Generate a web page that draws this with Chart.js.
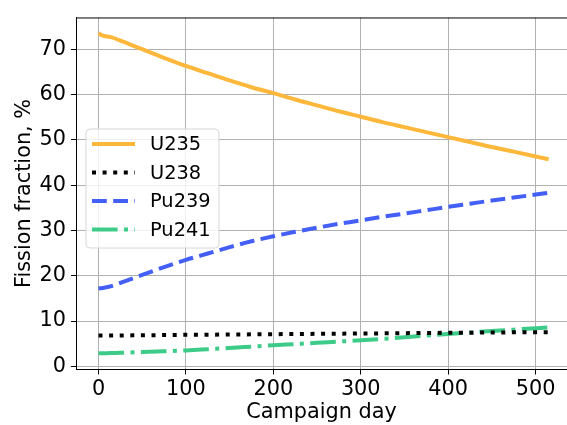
<!DOCTYPE html>
<html>
<head>
<meta charset="utf-8">
<script src="https://cdn.jsdelivr.net/npm/chart.js@4.4.1/dist/chart.umd.min.js"></script>
<style>
html,body{margin:0;padding:0;background:#fff;overflow:hidden;}
#wrap{position:relative;width:567px;height:425px;}
</style>
</head>
<body>
<div id="wrap"><canvas id="c" width="567" height="425"></canvas></div>
<script>
// ---- data ----
const days   = [0, 5, 10, 15, 25, 50, 75, 100, 125, 150, 175, 200, 225, 250, 275, 300, 325, 350, 375, 400, 425, 450, 475, 515];
const u235   = [73.5, 73.0, 72.8, 72.6, 71.9, 70.0, 68.1, 66.3, 64.7, 63.1, 61.6, 60.3, 58.9, 57.6, 56.3, 55.1, 53.9, 52.8, 51.7, 50.6, 49.5, 48.4, 47.4, 45.7];
const u238   = [6.8, 6.8, 6.8, 6.81, 6.82, 6.85, 6.9, 6.95, 6.98, 7.02, 7.06, 7.1, 7.13, 7.17, 7.21, 7.25, 7.28, 7.32, 7.36, 7.4, 7.43, 7.46, 7.5, 7.55];
const pu239  = [17.2, 17.3, 17.5, 17.7, 18.4, 20.2, 21.9, 23.5, 24.9, 26.3, 27.6, 28.7, 29.7, 30.6, 31.45, 32.2, 33.0, 33.7, 34.45, 35.2, 35.9, 36.6, 37.25, 38.3];
const pu241  = [2.85, 2.88, 2.9, 2.93, 2.98, 3.15, 3.32, 3.5, 3.77, 4.05, 4.35, 4.65, 4.92, 5.2, 5.47, 5.75, 6.07, 6.4, 6.77, 7.15, 7.47, 7.8, 8.1, 8.6];
const seriesNames = ["U235", "U238", "Pu239", "Pu241"];
const xTicks = [0, 100, 200, 300, 400, 500];
const yTicks = [0, 10, 20, 30, 40, 50, 60, 70];
const xLabel = "Campaign day";
const yLabel = "Fission fraction, %";

const FONT = "'DejaVu Sans', 'Liberation Sans', sans-serif";
const toPts = arr => days.map((d, i) => ({x: d, y: arr[i]}));

const styles = [
  {color: '#fdb83b', dash: []},
  {color: '#000000', dash: [4, 6.6]},
  {color: '#435ff5', dash: [14.8, 6.4]},
  {color: '#3dcb88', dash: [25.6, 6.4, 4, 6.4]}
];
const allSeries = [u235, u238, pu239, pu241];

const datasets = allSeries.map((arr, i) => ({
  label: seriesNames[i],
  data: toPts(arr),
  borderColor: styles[i].color,
  backgroundColor: styles[i].color,
  borderDash: styles[i].dash,
  borderWidth: 4,
  pointRadius: 0,
  fill: false,
  cubicInterpolationMode: 'monotone',
  borderJoinStyle: 'round',
  borderCapStyle: 'butt'
}));

const frame = {
  id: 'frame',
  afterDraw(chart) {
    const {ctx, chartArea: a} = chart;
    ctx.save();
    ctx.strokeStyle = '#000';
    ctx.lineWidth = 1;
    ctx.beginPath();
    ctx.moveTo(a.left, a.top + 0.5);
    ctx.lineTo(a.right, a.top + 0.5);
    ctx.stroke();
    ctx.restore();
  }
};

const legendBox = {
  id: 'legendBox',
  afterDatasetsDraw(chart) {
    const ctx = chart.ctx;
    const bx = 86, by = 129, bw = 133, bh = 119, r = 4;
    ctx.save();
    ctx.beginPath();
    ctx.moveTo(bx + r, by);
    ctx.arcTo(bx + bw, by, bx + bw, by + bh, r);
    ctx.arcTo(bx + bw, by + bh, bx, by + bh, r);
    ctx.arcTo(bx, by + bh, bx, by, r);
    ctx.arcTo(bx, by, bx + bw, by, r);
    ctx.closePath();
    ctx.fillStyle = 'rgba(255,255,255,0.8)';
    ctx.fill();
    ctx.strokeStyle = '#d6d6d6';
    ctx.lineWidth = 1;
    ctx.stroke();
    const rows = [144, 172.5, 201, 229.5];
    chart.data.datasets.forEach((ds, i) => {
      const y = rows[i];
      ctx.beginPath();
      ctx.setLineDash(ds.borderDash || []);
      ctx.lineDashOffset = 0;
      ctx.strokeStyle = ds.borderColor;
      ctx.lineWidth = ds.borderWidth;
      ctx.lineCap = 'butt';
      ctx.moveTo(92, y);
      ctx.lineTo(135, y);
      ctx.stroke();
      ctx.setLineDash([]);
      ctx.fillStyle = '#000';
      ctx.font = "19.4px " + FONT;
      ctx.textBaseline = 'middle';
      ctx.textAlign = 'left';
      ctx.fillText(ds.label, 150, y + 1);
    });
    ctx.restore();
  }
};

new Chart(document.getElementById('c'), {
  type: 'line',
  data: {datasets},
  plugins: [frame, legendBox],
  options: {
    responsive: false,
    animation: false,
    parsing: true,
    layout: {padding: {top: 9, right: 0, left: 0, bottom: 0}},
    plugins: {legend: {display: false}, tooltip: {enabled: false}},
    scales: {
      x: {
        type: 'linear',
        min: -25.75,
        max: 536,
        afterFit(s) { s.height = 55.5; },
        afterBuildTicks(s) { s.ticks = xTicks.map(v => ({value: v})); },
        ticks: {font: {family: FONT, size: 20.8}, color: '#000', padding: 3, maxRotation: 0},
        grid: {color: '#b0b0b0', lineWidth: 1, tickLength: 5, tickColor: '#000'},
        border: {color: '#000', width: 1},
        title: {display: true, text: xLabel, font: {family: FONT, size: 20.8}, color: '#000', padding: {top: 0, bottom: 0}}
      },
      y: {
        type: 'linear',
        min: -0.7,
        max: 77,
        afterFit(s) { s.width = 76; },
        afterBuildTicks(s) { s.ticks = yTicks.map(v => ({value: v})); },
        ticks: {font: {family: FONT, size: 20.8}, color: '#000', padding: 5},
        grid: {color: '#b0b0b0', lineWidth: 1, tickLength: 5, tickColor: '#000'},
        border: {color: '#000', width: 1},
        title: {display: true, text: yLabel, font: {family: FONT, size: 20.8}, color: '#000', padding: {top: 12, bottom: 0}}
      }
    }
  }
});
</script>
</body>
</html>
